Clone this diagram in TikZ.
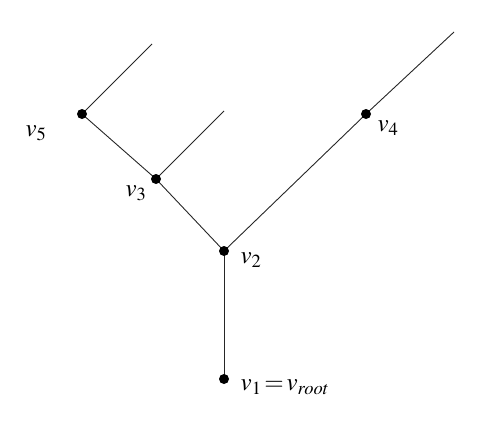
\documentclass[tikz,border=0pt]{standalone}
\usepackage{mathptmx}
\usepackage{tikz}
\tikzset{
  vlabel/.style={font=\fontsize{25}{30}\selectfont, inner sep=0pt},
  branch/.style={line width=0.9pt, black!85}
}

\begin{document}
\begin{tikzpicture}[x=1pt, y=-1pt, line join=round]
  \useasboundingbox (0,0) rectangle (484,428);
  \coordinate (v1) at (224,379);
  \coordinate (v2) at (224,251);
  \coordinate (v3) at (156,179);
  \coordinate (v4) at (366,114);
  \coordinate (v5) at ( 82,114);
  % free ends of the branches
  \coordinate (e5) at (152, 44);
  \coordinate (e3) at (224,111);
  \coordinate (e4) at (454, 32);
  % edges
  \draw[branch] (v1)--(v2);
  \draw[branch] (v2)--(v3)--(v5)--(e5);
  \draw[branch] (v3)--(e3);
  \draw[branch] (v2)--(v4)--(e4);
  % vertices
  \foreach \p in {v1,v2,v3,v4,v5}{\fill (\p) circle (5pt);}
  \node[vlabel] (l1) at (285,387) {$v_1\!=\!v_{root}$};
  \node[vlabel] (l2) at (251,260) {$v_2$};
  \node[vlabel] (l3) at (136,193) {$v_3$};
  \node[vlabel] (l4) at (388,128) {$v_4$};
  \node[vlabel] (l5) at ( 36,133) {$v_5$};
\end{tikzpicture}
\end{document}
